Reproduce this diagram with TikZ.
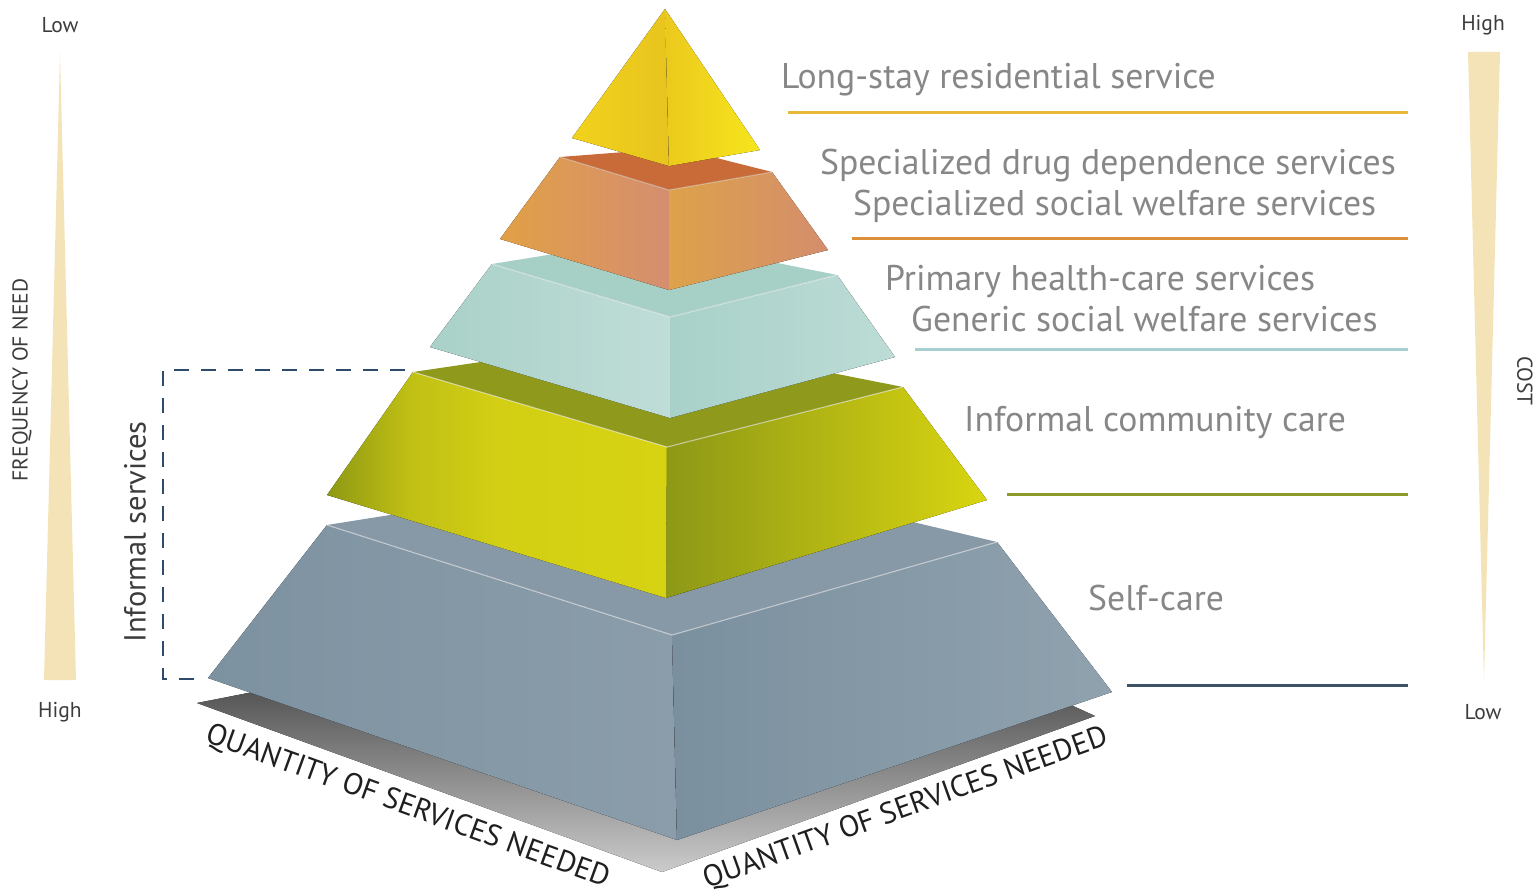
\documentclass[tikz,border=0pt]{standalone}
\usepackage{fontspec}
\setmainfont{PT Sans}
\definecolor{labgray}{HTML}{878787}
\definecolor{axisgray}{HTML}{3C3C3C}
\definecolor{wedge}{HTML}{F3E3B6}
\definecolor{lineA}{HTML}{E8B83A}
\definecolor{lineB}{HTML}{DE8F3A}
\definecolor{lineC}{HTML}{A8CFCF}
\definecolor{lineD}{HTML}{8C9A2A}
\definecolor{lineE}{HTML}{3E5266}
\definecolor{dashcol}{HTML}{2F4B6B}
\definecolor{shadowtop}{HTML}{555555}
\definecolor{shadowbot}{HTML}{CBCBCB}
\definecolor{yelLa}{HTML}{F1D21C}
\definecolor{yelLb}{HTML}{E8C41E}
\definecolor{yelRa}{HTML}{ECC91D}
\definecolor{yelRb}{HTML}{F6E61C}
\definecolor{orgTop}{HTML}{C96A39}
\definecolor{orgLa}{HTML}{E1A046}
\definecolor{orgLb}{HTML}{D58E70}
\definecolor{orgRa}{HTML}{DDA24A}
\definecolor{orgRb}{HTML}{D48D6D}
\definecolor{tealTop}{HTML}{A6CFC6}
\definecolor{tealLa}{HTML}{A9D1C8}
\definecolor{tealLb}{HTML}{C0DDD8}
\definecolor{tealRa}{HTML}{A8D1C9}
\definecolor{tealRb}{HTML}{BDDCD6}
\definecolor{olvTop}{HTML}{8F9A1C}
\definecolor{olvLa}{HTML}{8E9914}
\definecolor{olvLm}{HTML}{C0BF15}
\definecolor{olvLn}{HTML}{D2CF14}
\definecolor{olvLb}{HTML}{D7D313}
\definecolor{olvRa}{HTML}{8D9816}
\definecolor{olvRm}{HTML}{B3B416}
\definecolor{olvRb}{HTML}{D9D511}
\definecolor{grayTop}{HTML}{8798A6}
\definecolor{grayLa}{HTML}{7D92A1}
\definecolor{grayLb}{HTML}{8B9DAA}
\definecolor{grayRa}{HTML}{7B909F}
\definecolor{grayRb}{HTML}{90A2AE}
\pgfdeclarehorizontalshading{olvleftshade}{100bp}{color(0bp)=(olvLa); color(25bp)=(olvLa); color(37bp)=(olvLm); color(50bp)=(olvLn); color(75bp)=(olvLb); color(100bp)=(olvLb)}
\begin{document}
\begin{tikzpicture}[x=1pt,y=-1pt,
  lbl/.style={font=\fontsize{35.7}{40}\selectfont, text=labgray, anchor=base west, inner sep=0pt},
  axislbl/.style={font=\fontsize{21.5}{24}\selectfont, text=axisgray, inner sep=0pt},
  qty/.style={font=\fontsize{30}{33}\selectfont, text=black!88, inner sep=0pt},
  tierline/.style={line width=3pt},
  hl/.style={draw=white, draw opacity=0.6, line width=1pt},
  dashbox/.style={draw=dashcol, line width=2.4pt, dash pattern=on 15pt off 12pt}]
\useasboundingbox (0,0) rectangle (1539,896);

% shadow
\fill[top color=shadowtop, bottom color=shadowbot]
  (197,703) -- (662,872) -- (1095,716) -- (1060,700) -- (680,690) -- (253,692) -- cycle;

% gray tier (self-care)
\fill[grayTop] (327,525) -- (686,468) -- (997,542) -- (672,635) -- cycle;
\fill[left color=grayLa, right color=grayLb] (327,525) -- (672,635) -- (677,840) -- (208,678) -- cycle;
\fill[left color=grayRa, right color=grayRb] (672,635) -- (997,542) -- (1112,692) -- (677,840) -- cycle;
\draw[hl] (327,525) -- (672,635) -- (997,542);

% olive tier
\fill[olvTop] (413,372) -- (650,337) -- (903,387) -- (667,447) -- cycle;
\fill[shading=olvleftshade] (413,372) -- (667,447) -- (666,598) -- (327,495) -- cycle;
\fill[left color=olvRa, middle color=olvRm, right color=olvRb] (667,447) -- (903,387) -- (987,500) -- (666,598) -- cycle;
\draw[hl] (413,372) -- (667,447) -- (903,387);

% teal tier
\fill[tealTop] (492,264) -- (653,238) -- (837,275) -- (670,317) -- cycle;
\fill[left color=tealLa, right color=tealLb] (492,264) -- (670,317) -- (670,418) -- (430,347) -- cycle;
\fill[left color=tealRa, right color=tealRb] (670,317) -- (837,275) -- (895,357) -- (670,418) -- cycle;
\draw[hl] (492,264) -- (670,317) -- (837,275);

% orange tier
\fill[orgTop] (560,157) -- (677,148) -- (772,172) -- (669,190) -- cycle;
\fill[left color=orgLa, right color=orgLb] (560,157) -- (669,190) -- (669,290) -- (500,239) -- cycle;
\fill[left color=orgRa, right color=orgRb] (669,190) -- (772,172) -- (828,250) -- (669,290) -- cycle;
\draw[hl, draw opacity=0.4] (560,157) -- (669,190) -- (772,172);

% yellow apex
\fill[left color=yelLa, right color=yelLb] (665,9) -- (572,138) -- (669,166) -- cycle;
\fill[left color=yelRa, right color=yelRb] (665,9) -- (669,166) -- (760,150) -- cycle;

% right-hand labels and rules
\node[lbl] (l1) at (781,89) {Long-stay residential service};
\node[lbl] (l2a) at (820,175) {Specialized drug dependence services};
\node[lbl] (l2b) at (853,215) {Specialized social welfare services};
\node[lbl] (l3a) at (885,290) {Primary health-care services};
\node[lbl] (l3b) at (911,331) {Generic social welfare services};
\node[lbl] (l4) at (964,431) {Informal community care};
\node[lbl] (l5) at (1088,610) {Self-care};

\coordinate (r1a) at (788,113);  \coordinate (r1b) at (1408,113);
\coordinate (r2a) at (852,238);  \coordinate (r2b) at (1408,238);
\coordinate (r3a) at (915,349);  \coordinate (r3b) at (1408,349);
\coordinate (r4a) at (1007,494); \coordinate (r4b) at (1408,494);
\coordinate (r5a) at (1127,685); \coordinate (r5b) at (1408,685);
\draw[tierline, lineA] (r1a) -- (r1b);
\draw[tierline, lineB] (r2a) -- (r2b);
\draw[tierline, lineC] (r3a) -- (r3b);
\draw[tierline, lineD] (r4a) -- (r4b);
\draw[tierline, lineE] (r5a) -- (r5b);

% frequency axis (left)
\fill[wedge] (60,54) -- (76,680) -- (44,680) -- cycle;
\node[axislbl] (lowL) at (60,25) {Low};
\node[axislbl] (highL) at (60,712) {High};
\node[axislbl, rotate=90] (freq) at (22,380) {FREQUENCY OF NEED};

% cost axis (right)
\fill[wedge] (1468,52) -- (1500,52) -- (1484,680) -- cycle;
\node[axislbl] (highR) at (1483,25) {High};
\node[axislbl] (lowR) at (1483,712) {Low};
\node[axislbl, rotate=-90] (cost) at (1525,381) {COST};

% informal services bracket
\coordinate (d1) at (405,370);
\coordinate (d2) at (163,370);
\coordinate (d3) at (163,679);
\coordinate (d4) at (202,679);
\draw[dashbox] (d1) -- (d2) -- (d3) -- (d4);
\node[font=\fontsize{30.5}{34}\selectfont, text=axisgray, rotate=90, inner sep=0pt] (inf) at (135,532) {Informal services};

% quantity labels
\node[qty, rotate=-20] (qL) at (408,807) {QUANTITY OF SERVICES NEEDED};
\node[qty, rotate=19.8] (qR) at (906,809) {QUANTITY OF SERVICES NEEDED};
\end{tikzpicture}
\end{document}
